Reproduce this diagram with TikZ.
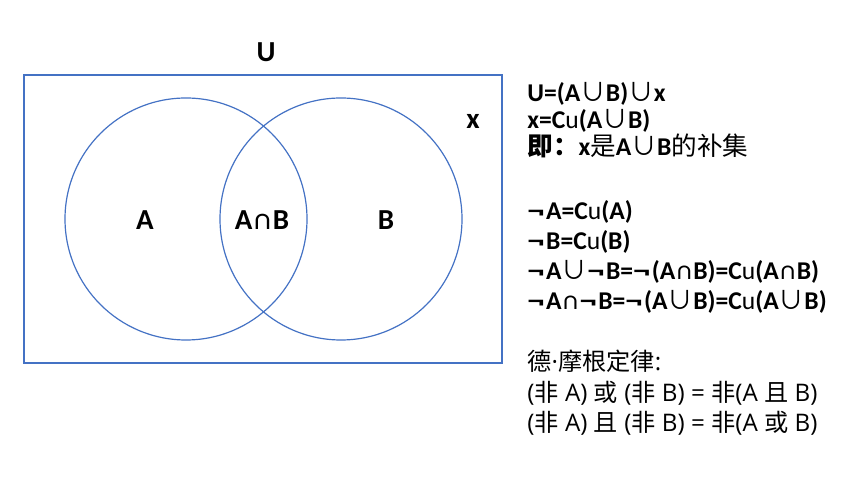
\documentclass[tikz,border=0pt]{standalone}
\usepackage{graphicx}
\usepackage{fontspec}
\setmainfont{Carlito}
\newfontfamily\cjk{Noto Sans CJK SC}
\newfontfamily\ruletext{Open Sans}
\usetikzlibrary{positioning}
\definecolor{VennBlue}{HTML}{4472C4}
\newcommand{\uni}{\makebox[1em]{\smash{\cjk\mdseries ∪}}}
\newcommand{\isect}{\makebox[0.7em]{∩}}
\newcommand{\negt}{\scalebox{1.35}[1]{¬}\hspace{0.06em}}
\newcommand{\comp}{C{\mdseries u}}
\newcommand{\zh}[1]{{\cjk #1}}

\begin{document}
\begin{tikzpicture}[x=0.5pt,y=-0.5pt,
    setlab/.style={font=\fontsize{14.5}{16}\selectfont\bfseries},
    law/.style={anchor=west,inner sep=0pt,text height=0.68em,text depth=0.18em,
      font=\fontsize{12.8}{14}\selectfont\bfseries},
    rule/.style={anchor=west,inner sep=0pt,text height=0.68em,text depth=0.18em,
      font=\fontsize{12.1}{14}\selectfont\ruletext}]
    \useasboundingbox (0,0) rectangle (862,485);
    % universe and the two sets
    \node[draw=VennBlue,line width=0.6pt,minimum width=239pt,minimum height=144pt,inner sep=0pt] (univ) at (263,219) {};
    \node[circle,draw=VennBlue,line width=0.6pt,minimum size=121pt,inner sep=0pt] (setA) at (186,219) {};
    \node[circle,draw=VennBlue,line width=0.6pt,minimum size=121pt,inner sep=0pt] (setB) at (341,219) {};
    \node[setlab] (labU) at (266,52) {U};
    \node[setlab] (labX) at (473,121) {x};
    \node[setlab] (labA) at (145,220) {A};
    \node[setlab] (labAB) at (262,220) {A∩B};
    \node[setlab] (labB) at (386,220) {B};
    % complement of the union
    \node[law] (l1) at (527,97) {U=(A\uni B)\uni x};
    \node[law] (l2) at (527,124) {x=\comp(A\uni B)};
    \node[law] (l3) at (527,151) {\zh{即：}x\zh{\mdseries 是}A\uni B\zh{\mdseries 的补集}};
    % negations
    \node[law] (n1) at (527,215) {\negt A=\comp(A)};
    \node[law] (n2) at (527,245) {\negt B=\comp(B)};
    \node[law] (n3) at (527,275) {\negt A\uni\negt B=\negt(A∩B)=\comp(A∩B)};
    \node[law] (n4) at (527,305) {\negt A\isect\negt B=\negt(A\uni B)=\comp(A\uni B)};
    % de morgan
    \node[rule] (d1) at (527,366) {\zh{德}·\zh{摩根定律}:};
    \node[rule] (d2) at (527,397) {(\zh{非} A) \zh{或} (\zh{非} B) = \zh{非}(A \zh{且} B)};
    \node[rule] (d3) at (527,427) {(\zh{非} A) \zh{且} (\zh{非} B) = \zh{非}(A \zh{或} B)};
\end{tikzpicture}
\end{document}
